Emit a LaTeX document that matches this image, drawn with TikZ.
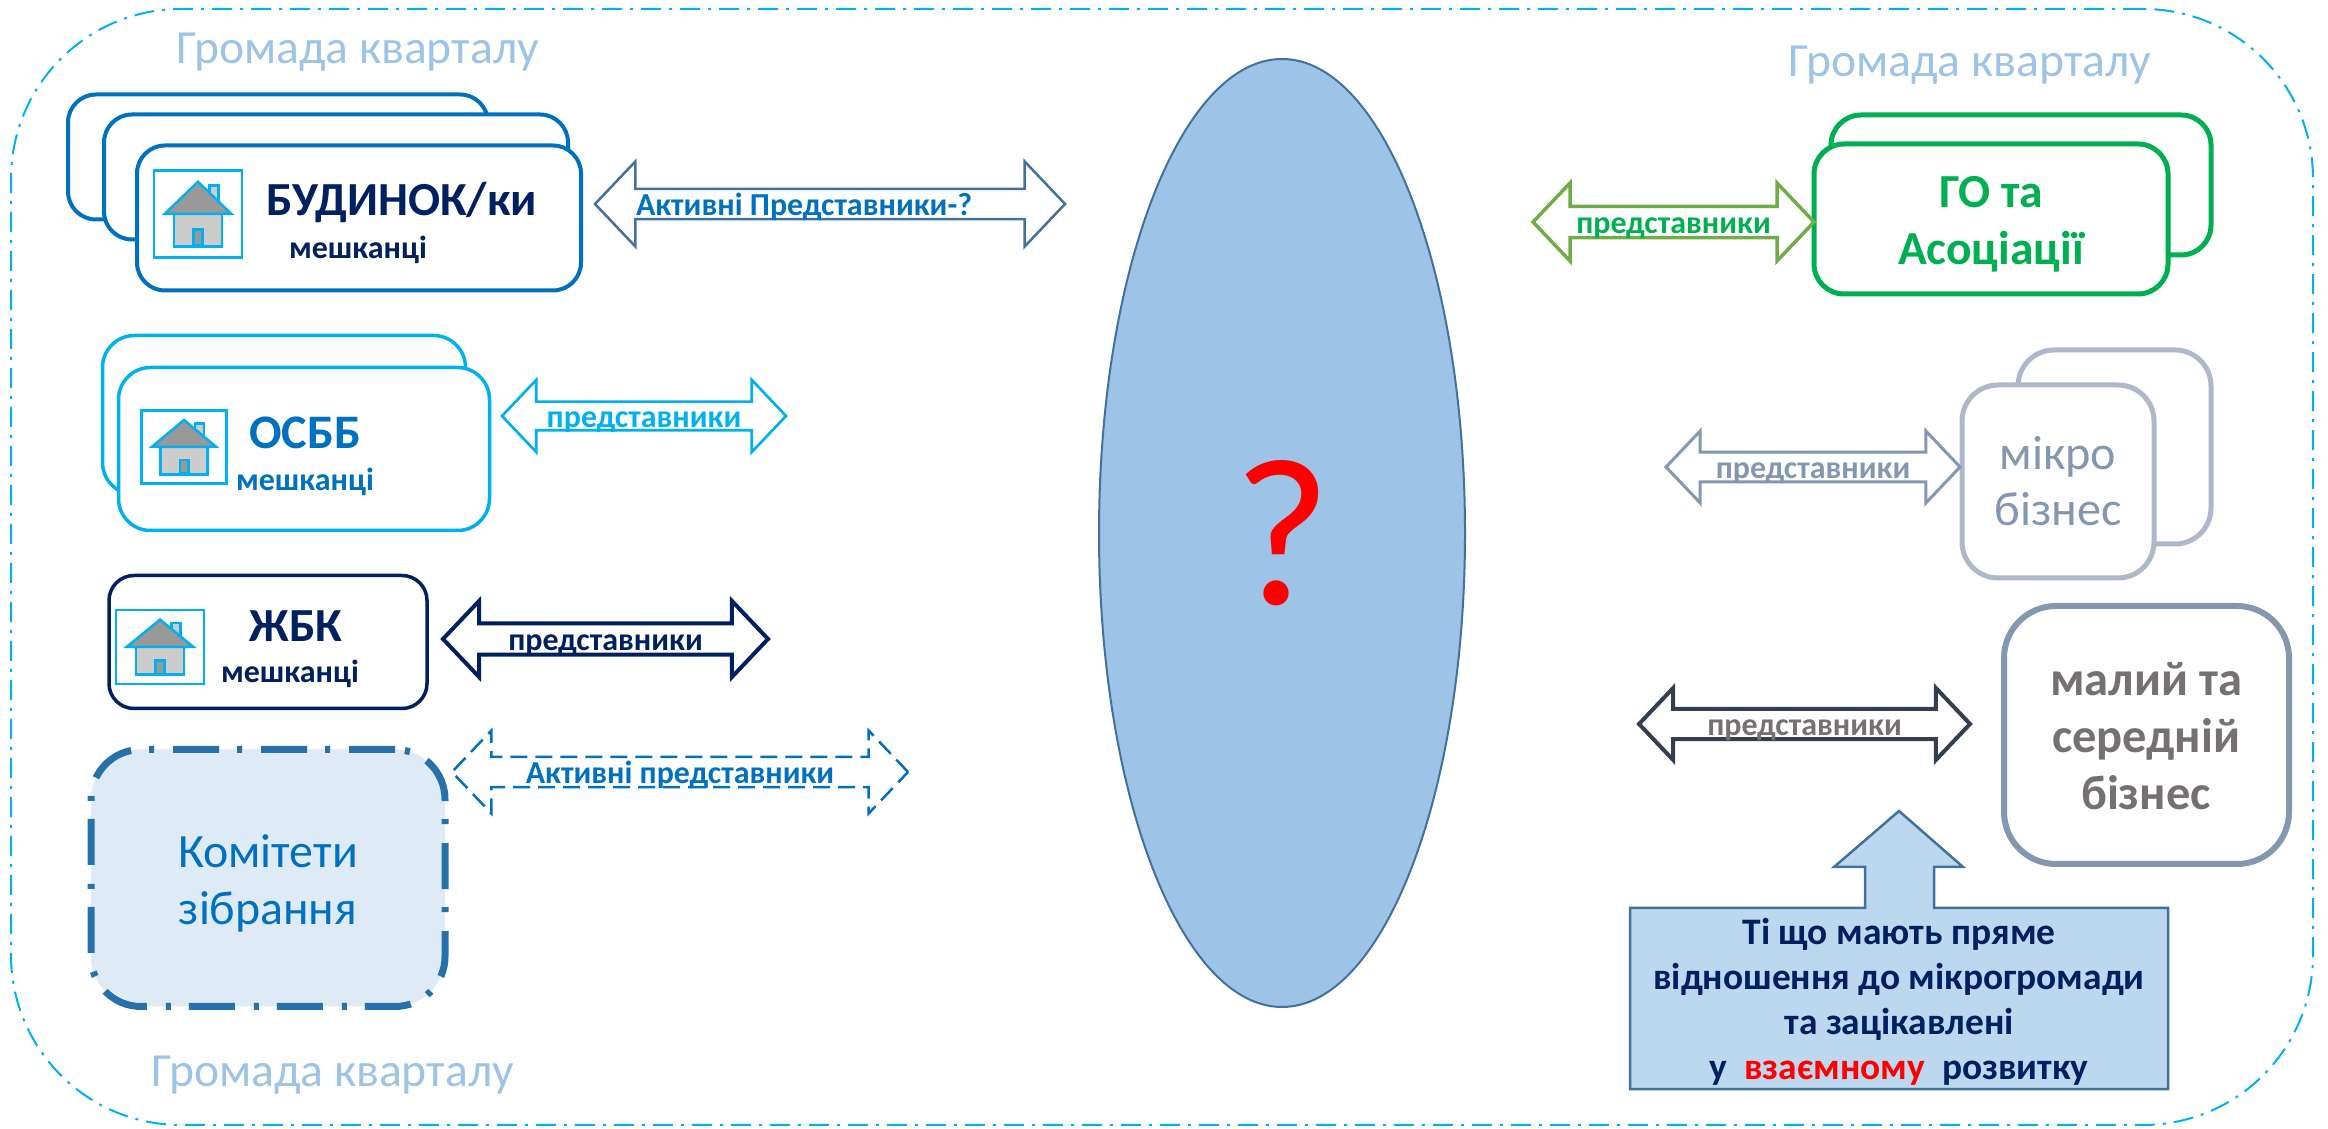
\documentclass[tikz,border=0pt]{standalone}
\usepackage{fontspec}
\setmainfont{Carlito}
\usetikzlibrary{positioning,shapes.geometric,shapes.arrows}
\definecolor{cyanline}{HTML}{00B0F0}
\definecolor{blueline}{HTML}{0070C0}
\definecolor{navy}{HTML}{002060}
\definecolor{steel}{HTML}{41719C}
\definecolor{sky}{HTML}{9DC3E6}
\definecolor{pale}{HTML}{DEEAF6}
\definecolor{callout}{HTML}{BDD7EE}
\definecolor{gogreen}{HTML}{00B050}
\definecolor{leaf}{HTML}{70AD47}
\definecolor{greyblue}{HTML}{8497B0}
\definecolor{greyline}{HTML}{ADB9CA}
\definecolor{slate}{HTML}{333F50}
\definecolor{greytext}{HTML}{767171}
\newcommand{\fs}[1]{\fontsize{#1}{#1}\selectfont}
\tikzset{
  card/.style={rectangle, draw, fill=white, inner sep=0pt},
  caption/.style={anchor=base, inner sep=0pt, align=center},
  dblarrow/.style={shape=double arrow, draw, fill=white, inner sep=0pt, text height=2.25mm, text depth=0pt,
    double arrow tip angle=93, font=\fs{9.1}\bfseries},
  gromada/.style={caption, text=sky, font=\fs{13.55}},
  houseicon/.pic={
    \draw[cyanline, line width=.25mm, fill=white] (-1,-1) rectangle (1,1);
    \draw[cyanline, line width=.25mm, fill=black!20] (.26,-.65) rectangle (.47,-.2);
    \draw[cyanline, line width=.25mm, fill=black!20] (-.55,0) rectangle (.55,.75);
    \draw[cyanline, line width=.25mm, fill=black!40] (-.76,0) -- (0,-.74) -- (.76,0) -- cycle;
    \draw[cyanline, line width=.25mm, fill=black!40] (-.1,.36) rectangle (.1,.73);
  }
}
\begin{document}
\begin{tikzpicture}[x=.1mm, y=-.1mm]
  \useasboundingbox (0,0) rectangle (2328,1129);

  \node [rectangle, draw=cyanline, line width=.2mm, dash pattern=on 2mm off .8mm on .3mm off .8mm, rounded corners=17mm,
    minimum width=230.2mm, minimum height=111.6mm] (kvartal) at (1162,567) {};

  \node [gromada] (gromadaA) at (358,64) {Громада кварталу};
  \node [gromada] (gromadaB) at (1970,77) {Громада кварталу};
  \node [gromada] (gromadaC) at (333,1086) {Громада кварталу};

  % left side
  \node [card, draw=blueline, line width=.4mm, rounded corners=2.8mm, minimum width=42mm, minimum height=12.5mm] (budA) at (278,157) {};
  \node [card, draw=blueline, line width=.4mm, rounded corners=2.8mm, minimum width=46.4mm, minimum height=12.5mm] (budB) at (336,177) {};
  \node [card, draw=blueline, line width=.4mm, rounded corners=2.8mm, minimum width=44.4mm, minimum height=14.5mm] (budC) at (359,218) {};
  \pic [xscale=44, yscale=43.5] at (198,214) {houseicon};
  \node [caption, text=navy, font=\fs{13.5}\bfseries] (budname) at (402,216) {БУДИНОК/ки};
  \node [caption, text=navy, font=\fs{9.1}\bfseries] (budpeople) at (358,259) {мешканці};
  \node [dblarrow, draw=steel, line width=.25mm, text=blueline, minimum height=47mm, minimum width=8.5mm,
    double arrow head extend=2.25mm] (budarrow) at (830,204) {Активні Представники-?\hspace*{5.2mm}};

  \node [card, draw=cyanline, line width=.35mm, rounded corners=3.2mm, minimum width=36.3mm, minimum height=15.9mm] (osbbA) at (284,415) {};
  \node [card, draw=cyanline, line width=.35mm, rounded corners=3.2mm, minimum width=37.1mm, minimum height=16.3mm] (osbbB) at (304,449) {};
  \pic [xscale=42.5, yscale=36.5] at (184,447) {houseicon};
  \node [caption, text=blueline, font=\fs{13.7}\bfseries] (osbbname) at (305,449) {ОСББ};
  \node [caption, text=blueline, font=\fs{9.1}\bfseries] (osbbpeople) at (305,491) {мешканці};
  \node [dblarrow, draw=cyanline, line width=.27mm, text=cyanline, minimum height=28.4mm, minimum width=7.2mm,
    double arrow head extend=1.9mm] (osbbarrow) at (644,416) {представники};

  \node [card, draw=navy, line width=.35mm, rounded corners=2.5mm, minimum width=31.8mm, minimum height=13.3mm] (zbk) at (268,642) {};
  \pic [xscale=44, yscale=37] at (160,647) {houseicon};
  \node [caption, text=navy, font=\fs{13.5}\bfseries] (zbkname) at (296,642) {ЖБК};
  \node [caption, text=navy, font=\fs{9.1}\bfseries] (zbkpeople) at (290,683) {мешканці};
  \node [dblarrow, draw=navy, line width=.4mm, text=navy, minimum height=32.5mm, minimum width=7.6mm,
    double arrow head extend=1.9mm] (zbkarrow) at (605.5,639) {представники};

  \node [card, draw=steel!60!blueline, fill=pale, line width=.7mm, dash pattern=on 4.6mm off 1.9mm on .5mm off 1.8mm,
    rounded corners=5mm, minimum width=35.4mm, minimum height=25.7mm] (komitet) at (268,878) {};
  \node [caption, text=blueline, font=\fs{13.6}] (komitetA) at (268,868) {Комітети};
  \node [caption, text=blueline, font=\fs{13.6}] (komitetB) at (268,925) {зібрання};
  \node [dblarrow, draw=blueline, line width=.25mm, dash pattern=on 1.7mm off .8mm, fill=none, text=blueline, minimum height=45.6mm, minimum width=8.3mm,
    double arrow head extend=2.2mm] (komitetarrow) at (680,772) {Активні представники};

  % centre
  \node [ellipse, draw=steel, fill=sky, line width=.2mm, inner sep=0pt, minimum width=36.6mm, minimum height=94.8mm,
    text=red, font=\fs{60}] (pytannia) at (1282,533) {?};

  % right side
  \node [card, draw=gogreen, line width=.5mm, rounded corners=3mm, minimum width=38mm, minimum height=14mm] (goA) at (2021,185) {};
  \node [card, draw=gogreen, line width=.5mm, rounded corners=3mm, minimum width=35.4mm, minimum height=15mm] (goB) at (1991,219) {};
  \node [caption, text=gogreen, font=\fs{13.5}\bfseries] (goname) at (1991,208) {ГО та};
  \node [caption, text=gogreen, font=\fs{13.5}\bfseries] (gonameB) at (1991,265) {Асоціації};
  \node [dblarrow, draw=leaf, line width=.35mm, text=gogreen, minimum height=28.1mm, minimum width=7.8mm,
    double arrow head extend=1.95mm] (goarrow) at (1673.5,222) {представники};

  \node [card, draw=greyline, line width=.5mm, rounded corners=3.6mm, minimum width=19.3mm, minimum height=19.4mm] (mikroA) at (2114.5,447) {};
  \node [card, draw=greyline, line width=.5mm, rounded corners=3.6mm, minimum width=19.2mm, minimum height=19.3mm] (mikroB) at (2058,481.5) {};
  \node [caption, text=greyblue, font=\fs{13.7}] (mikronameA) at (2058,470) {мікро};
  \node [caption, text=greyblue, font=\fs{13.7}] (mikronameB) at (2058,526) {бізнес};
  \node [dblarrow, draw=greyblue, line width=.3mm, text=greyblue, minimum height=29.4mm, minimum width=7.2mm,
    double arrow head extend=1.8mm] (mikroarrow) at (1813,467) {представники};

  \node [card, draw=greyblue, line width=.6mm, rounded corners=5.2mm, minimum width=28.5mm, minimum height=25.8mm] (biznes) at (2146.5,735) {};
  \node [caption, text=greytext, font=\fs{13.8}\bfseries] (biznesA) at (2146,696) {малий та};
  \node [caption, text=greytext, font=\fs{13.8}\bfseries] (biznesB) at (2146,753) {середній};
  \node [caption, text=greytext, font=\fs{13.8}\bfseries] (biznesC) at (2146,810) {бізнес};
  \node [dblarrow, draw=slate, line width=.4mm, text=greytext, minimum height=33.1mm, minimum width=7.2mm,
    double arrow head extend=1.85mm] (biznesarrow) at (1804.5,724) {представники};

  \draw [draw=steel, fill=callout, line width=.25mm] (1630,908) -- (1865,908) -- (1865,867) -- (1834,867) -- (1899,811)
    -- (1963,867) -- (1934,867) -- (1934,908) -- (2168,908) -- (2168,1089) -- (1630,1089) -- cycle;
  \node [anchor=center, inner sep=0pt, align=center, text=navy, font=\fontsize{10.65}{12.8}\selectfont\bfseries] (vidnoshennia) at (1899,1002)
    {Ті що мають пряме\\відношення до мікрогромади\\та зацікавлені\\у\ \ \textcolor{red}{взаємному}\ \ розвитку};
\end{tikzpicture}
\end{document}
